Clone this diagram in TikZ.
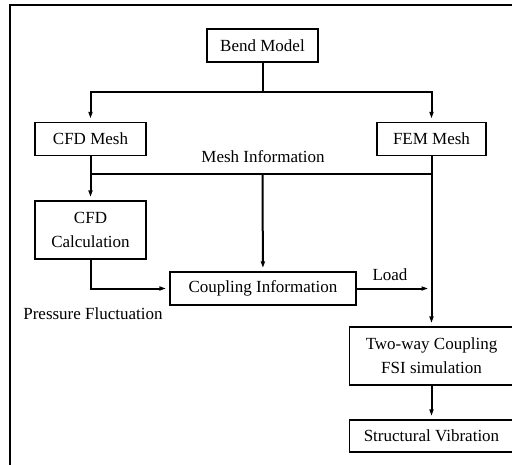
\documentclass[tikz,border=0pt]{standalone}
\usepackage{fontspec}
\setmainfont{Liberation Serif}
\usetikzlibrary{arrows.meta}
\tikzset{
  box/.style = {draw, line width=1.3pt, inner sep=0pt, align=center,
                minimum height=33pt, font=\fontsize{17}{24}\selectfont},
  tag/.style = {font=\fontsize{17}{24}\selectfont, inner sep=0pt},
  link/.style = {draw, line width=2pt},
  flow/.style = {link, -{Latex[length=10pt,width=4.5pt]}}
}
\begin{document}
\begin{tikzpicture}[x=1pt, y=-1pt]
\useasboundingbox (0,0) rectangle (512,464);
\clip (0,0) rectangle (512,464);
\draw[line width=2.5pt] (10,475) -- (10,5) -- (525,5);
\begin{scope}[every node/.style = {box}]
\node[minimum width=111pt] (bend) at (262.5,45.5) {Bend Model};
\node[minimum width=111pt] (cfdmesh) at (90.5,139) {CFD Mesh};
\node[minimum width=109pt] (femmesh) at (431.5,139) {FEM Mesh};
\node[minimum width=111pt, minimum height=58pt] (cfdcalc) at (90.5,230) {CFD\\Calculation};
\node[minimum width=186pt] (coupling) at (263,288.5) {Coupling Information};
\node[minimum width=164pt, minimum height=58pt] (twoway) at (431.5,356) {Two-way Coupling\\FSI simulation};
\node[minimum width=164pt, minimum height=32pt] (vibration) at (431.5,436) {Structural Vibration};
\end{scope}
\coordinate (split) at (262.5,92);
\coordinate (meshl) at (90.5,174);
\coordinate (meshr) at (431.5,174);
\coordinate (meshc) at (262.5,174);
\coordinate (loadend) at (431.5,288.5);
\begin{scope}
\path[link] (bend) -- (split);
\path[flow] (split) -| (cfdmesh);
\path[flow] (split) -| (femmesh);
\path[flow] (cfdmesh) -- (cfdcalc);
\path[link] (meshl) -- (meshr);
\path[flow] (meshc) -- (coupling);
\path[flow] (femmesh) -- (twoway);
\path[flow] (cfdcalc) |- (coupling);
\path[flow] (coupling) -- (loadend);
\path[flow] (twoway) -- (vibration);
\end{scope}
\node[tag] (meshinfo) at (263,157) {Mesh Information};
\node[tag] (load) at (390,275) {Load};
\node[tag] (pressure) at (93,314) {Pressure Fluctuation};
\end{tikzpicture}
\end{document}
